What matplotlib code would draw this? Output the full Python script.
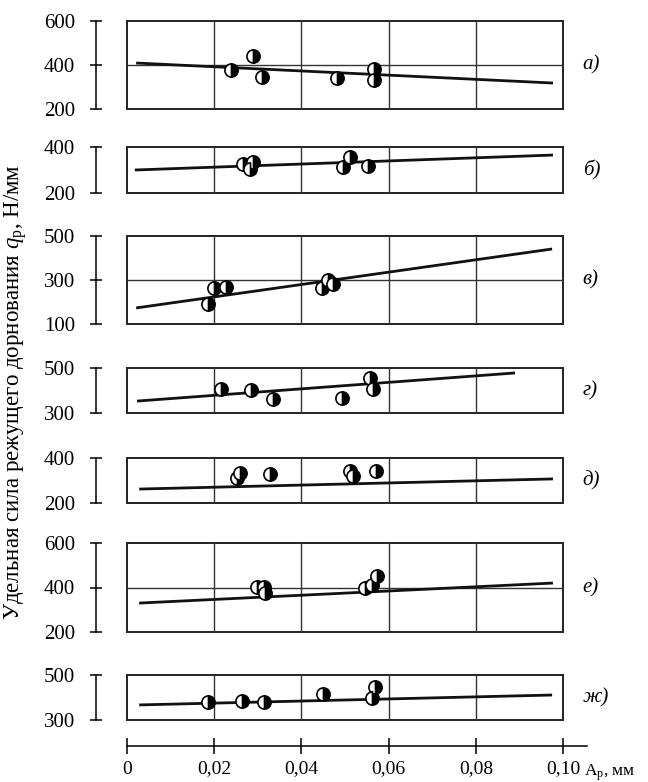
import matplotlib.pyplot as plt
from matplotlib.patches import Rectangle

plt.rcParams['font.family'] = ['Liberation Serif', 'DejaVu Serif']
plt.rcParams['mathtext.fontset'] = 'custom'
plt.rcParams['mathtext.rm'] = 'Liberation Serif'
plt.rcParams['mathtext.it'] = 'Liberation Serif:italic'

W, H = 648, 782

# panel labels, y ranges, y ticks, horizontal grid
labels = ['а)', 'б)', 'в)', 'г)', 'д)', 'е)', 'ж)']
ylims = [(200, 600), (200, 400), (100, 500), (300, 500), (200, 400), (200, 600), (300, 500)]
yticks = [[200, 400, 600], [200, 400], [100, 300, 500], [300, 500], [200, 400], [200, 400, 600], [300, 500]]
hgrid = [400, None, 300, None, None, 400, None]

# measured points (A_p, q_p)
pts_x = [
    [0.0239, 0.0289, 0.0310, 0.0482, 0.0567, 0.0567],
    [0.0266, 0.0289, 0.0282, 0.0495, 0.0511, 0.0553],
    [0.0186, 0.0200, 0.0227, 0.0447, 0.0461, 0.0472],
    [0.0216, 0.0284, 0.0335, 0.0493, 0.0557, 0.0564],
    [0.0252, 0.0259, 0.0328, 0.0511, 0.0518, 0.0571],
    [0.0298, 0.0314, 0.0317, 0.0546, 0.0562, 0.0573],
    [0.0186, 0.0264, 0.0314, 0.0450, 0.0569, 0.0562],
]
pts_y = [
    [377, 441, 345, 341, 382, 332],
    [326, 335, 304, 313, 357, 317],
    [191, 264, 268, 264, 300, 282],
    [407, 402, 362, 367, 456, 407],
    [311, 333, 329, 342, 320, 342],
    [402, 402, 375, 398, 411, 452],
    [380, 384, 380, 416, 447, 398],
]
# regression lines (x0, x1, y0, y1)
line_x = [(0.0021, 0.0977), (0.0018, 0.0977), (0.0021, 0.0975), (0.0023, 0.0890),
          (0.0028, 0.0977), (0.0028, 0.0977), (0.0028, 0.0975)]
line_y = [(409, 318), (300, 365), (173, 441), (353, 478),
          (262, 307), (330, 420), (367, 411)]

# pixel extents of panels (top, bottom)
rows = [(21, 109), (147, 193), (236, 324), (368, 413), (458, 503), (543, 632), (675, 720)]
x_left, x_right = 127, 563

fig = plt.figure(figsize=(W / 100, H / 100), dpi=100)

for i, (top, bot) in enumerate(rows):
    ax = fig.add_axes([x_left / W, 1 - bot / H, (x_right - x_left) / W, (bot - top) / H])
    ax.set_xlim(0, 0.1)
    ax.set_ylim(*ylims[i])
    for s in ['top', 'right', 'bottom']:
        ax.spines[s].set_visible(False)
    ax.spines['left'].set_position(('outward', 22.5))
    ax.spines['left'].set_linewidth(1.1)
    ax.set_xticks([])
    ax.set_yticks(yticks[i])
    ax.tick_params(axis='y', direction='inout', length=8, width=1.1, pad=11, labelsize=15)
    ax.add_patch(Rectangle((0, 0), 1, 1, transform=ax.transAxes, fill=False,
                           lw=1.4, ec='#222222', clip_on=False))
    for gx in [0.02, 0.04, 0.06, 0.08]:
        ax.axvline(gx, color='#333333', lw=1.0)
    if hgrid[i] is not None:
        ax.axhline(hgrid[i], color='#333333', lw=1.0)
    ax.plot(line_x[i], line_y[i], color='#111111', lw=2.0, solid_capstyle='butt')
    ax.plot(pts_x[i], pts_y[i], 'o', ms=9.5, fillstyle='right', markerfacecolor='black',
            markerfacecoloralt='white', markeredgecolor='black', markeredgewidth=1.2,
            linestyle='none', clip_on=False)
    ax.text(1.045, 0.5, labels[i], transform=ax.transAxes, style='italic',
            fontsize=15, va='center', ha='left')

# x axis
xa = fig.add_axes([x_left / W, 1 - 746 / H, (587 - x_left) / W, 0.001])
xa.set_xlim(0, 0.1055)
for s in ['top', 'right', 'left']:
    xa.spines[s].set_visible(False)
xa.spines['bottom'].set_linewidth(1.1)
xa.set_yticks([])
xa.set_xticks([0, 0.02, 0.04, 0.06, 0.08, 0.10])
xa.set_xticklabels(['0', '0,02', '0,04', '0,06', '0,08', '0,10'])
xa.tick_params(axis='x', direction='inout', length=11, width=1.1, pad=5, labelsize=14)
fig.text(584 / W, 1 - 776 / H, r'A$_{\mathrm{p}}$, мм', fontsize=12.5, ha='left', va='baseline')

fig.text(16 / W, 1 - 392 / H, r'Удельная сила режущего дорнования $q_{\mathrm{p}}$, Н/мм',
         rotation=90, fontsize=16.5, ha='center', va='center')

fig.savefig('out.png', dpi=100)
